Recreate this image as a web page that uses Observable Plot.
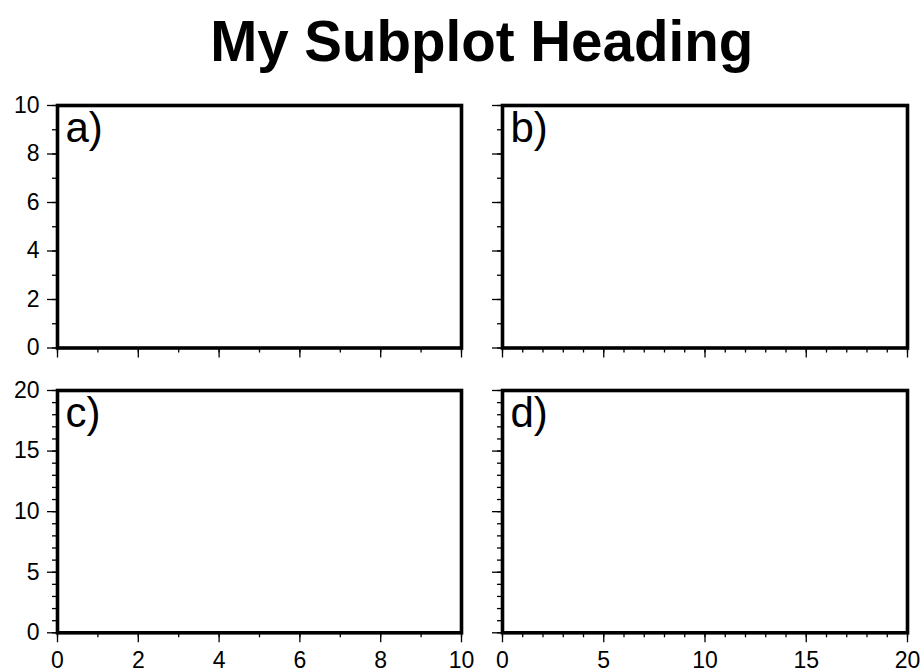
<!DOCTYPE html>
<html>
<head>
<meta charset="utf-8">
<script src="https://cdn.jsdelivr.net/npm/d3@7"></script>
<script src="https://cdn.jsdelivr.net/npm/@observablehq/plot@0.6"></script>
<style>
  html, body { margin: 0; padding: 0; background: white; }
  #root { position: relative; width: 921px; height: 669px; overflow: hidden; font-family: "Liberation Sans", Arial, Helvetica, sans-serif; }
  #title { position: absolute; top: 14px; left: 481.7px; transform: translateX(-50%); white-space: nowrap;
           font-size: 56.5px; line-height: 56.5px; font-weight: bold; color: black; }
  .panel { position: absolute; }
</style>
</head>
<body>
<div id="root">
  <div id="title">My Subplot Heading</div>
</div>
<script>
// ---- data ----
const titleText = "My Subplot Heading";
const panelLabels = ["a)", "b)", "c)", "d)"];
const xDomainLeft = [0, 10];
const xDomainRight = [0, 20];
const yDomainTop = [0, 10];
const yDomainBottom = [0, 20];
const xMajorLeft = [0, 2, 4, 6, 8, 10];
const xMinorLeft = [0, 1, 2, 3, 4, 5, 6, 7, 8, 9, 10];
const xMajorRight = [0, 5, 10, 15, 20];
const xMinorRight = [0, 1, 2, 3, 4, 5, 6, 7, 8, 9, 10, 11, 12, 13, 14, 15, 16, 17, 18, 19, 20];
const yMajorTop = [0, 2, 4, 6, 8, 10];
const yMinorTop = [0, 1, 2, 3, 4, 5, 6, 7, 8, 9, 10];
const yMajorBottom = [0, 5, 10, 15, 20];
const yMinorBottom = [0, 1, 2, 3, 4, 5, 6, 7, 8, 9, 10, 11, 12, 13, 14, 15, 16, 17, 18, 19, 20];

// ---- layout ----
const FONT = "'Liberation Sans', Arial, Helvetica, sans-serif";
const root = document.getElementById("root");
document.getElementById("title").textContent = titleText;

const cols = [
  {left: 0, width: 471, marginLeft: 57, marginRight: 10, xDomain: xDomainLeft, xMajor: xMajorLeft, xMinor: xMinorLeft},
  {left: 461, width: 460, marginLeft: 41, marginRight: 14, xDomain: xDomainRight, xMajor: xMajorRight, xMinor: xMinorRight}
];
const rows = [
  {top: 80, height: 290, marginTop: 25, marginBottom: 22.5, yDomain: yDomainTop, yMajor: yMajorTop, yMinor: yMinorTop},
  {top: 370, height: 299, marginTop: 20, marginBottom: 36.7, yDomain: yDomainBottom, yMajor: yMajorBottom, yMinor: yMinorBottom}
];

const blank = () => "";

rows.forEach((r, ri) => {
  cols.forEach((c, ci) => {
    const label = panelLabels[ri * 2 + ci];
    const showY = ci === 0;          // y labels only on left column
    const showX = ri === 1;          // x labels only on bottom row
    const chart = Plot.plot({
      width: c.width,
      height: r.height,
      marginLeft: c.marginLeft,
      marginRight: c.marginRight,
      marginTop: r.marginTop,
      marginBottom: r.marginBottom,
      style: {fontFamily: FONT, fontSize: "23px", background: "transparent", color: "black", overflow: "visible"},
      x: {domain: c.xDomain, nice: false},
      y: {domain: r.yDomain, nice: false},
      marks: [
        Plot.axisX(c.xMinor, {anchor: "bottom", tickSize: 5, tickFormat: blank, label: null, strokeWidth: 1.3}),
        Plot.axisX(c.xMajor, {anchor: "bottom", tickSize: 10, tickPadding: 9, tickFormat: showX ? (d => String(d)) : blank, label: null, strokeWidth: 1.3, fontSize: 23}),
        Plot.axisY(r.yMinor, {anchor: "left", tickSize: 5, tickFormat: blank, label: null, strokeWidth: 1.3}),
        Plot.axisY(r.yMajor, {anchor: "left", tickSize: 10, tickPadding: 8, tickFormat: showY ? (d => String(d)) : blank, label: null, strokeWidth: 1.3, fontSize: 23}),
        Plot.frame({stroke: "black", strokeWidth: 3.6}),
        Plot.text([label], {
          text: d => d,
          frameAnchor: "top-left",
          textAnchor: "start",
          lineAnchor: "top",
          dx: 8,
          dy: 7,
          fontSize: 42,
          fill: "black"
        })
      ]
    });
    chart.classList.add("panel");
    chart.style.left = c.left + "px";
    chart.style.top = r.top + "px";
    root.appendChild(chart);
  });
});
</script>
</body>
</html>
